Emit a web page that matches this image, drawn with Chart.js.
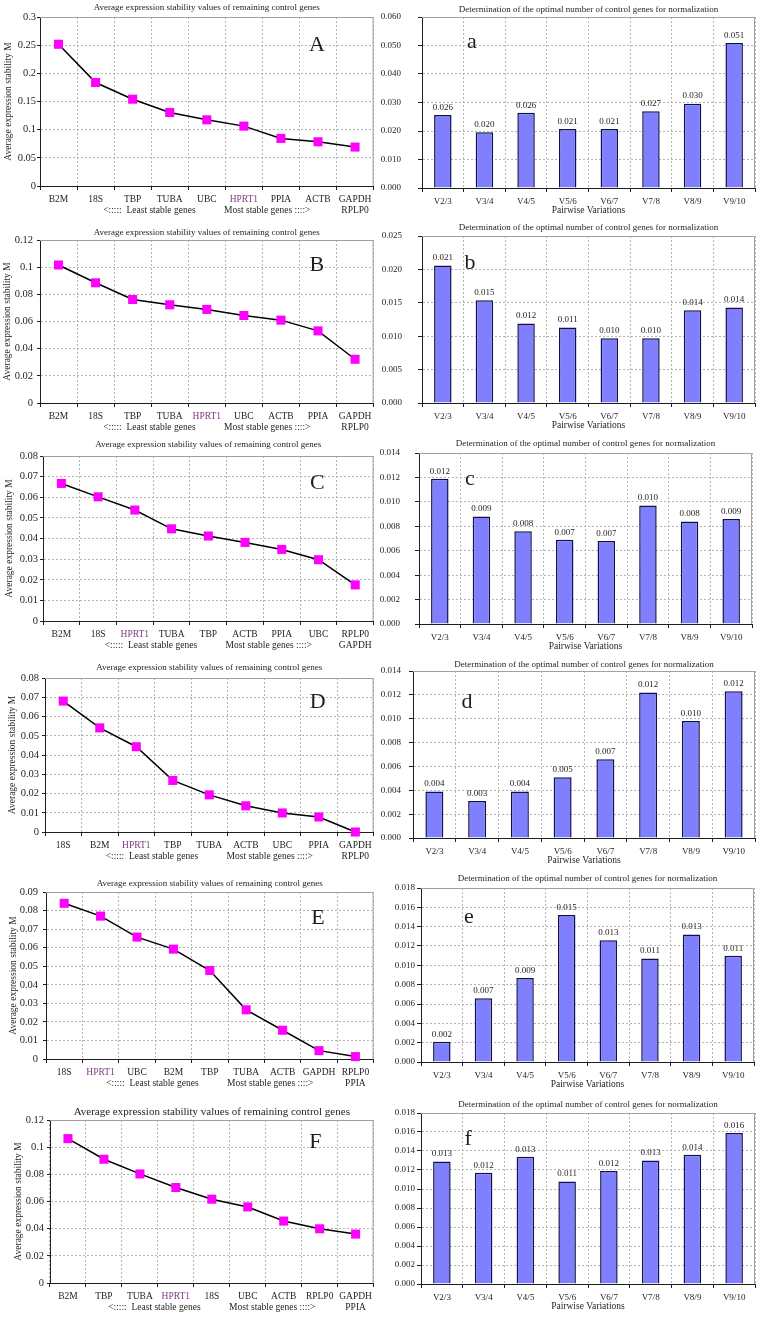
<!DOCTYPE html>
<html>
<head>
<meta charset="utf-8">
<script src="https://cdn.jsdelivr.net/npm/chart.js@4.4.1/dist/chart.umd.min.js"></script>
<style>
html, body { margin: 0; padding: 0; background: #fff; }
#page { position: relative; width: 763px; height: 1317px; overflow: hidden; background: #fff; }
#page canvas { position: absolute; }
</style>
</head>
<body>
<div id="page"></div>
<script>
// ---- data ----
const genesA = ['B2M', '18S', 'TBP', 'TUBA', 'UBC', 'HPRT1', 'PPIA', 'ACTB', ['GAPDH', 'RPLP0']];
const stabilityA = [0.2516, 0.1837, 0.1541, 0.1305, 0.1175, 0.1063, 0.0845, 0.0785, 0.0691];
const genesB = ['B2M', '18S', 'TBP', 'TUBA', 'HPRT1', 'UBC', 'ACTB', 'PPIA', ['GAPDH', 'RPLP0']];
const stabilityB = [0.1016, 0.0885, 0.0762, 0.0723, 0.0689, 0.0644, 0.0610, 0.0531, 0.0322];
const genesC = ['B2M', '18S', 'HPRT1', 'TUBA', 'TBP', 'ACTB', 'PPIA', 'UBC', ['RPLP0', 'GAPDH']];
const stabilityC = [0.0667, 0.0602, 0.0538, 0.0447, 0.0412, 0.0381, 0.0347, 0.0297, 0.0175];
const genesD = ['18S', 'B2M', 'HPRT1', 'TBP', 'TUBA', 'ACTB', 'UBC', 'PPIA', ['GAPDH', 'RPLP0']];
const stabilityD = [0.0680, 0.0541, 0.0443, 0.0268, 0.0193, 0.0136, 0.0099, 0.0078, 0.0];
const genesE = ['18S', 'HPRT1', 'UBC', 'B2M', 'TBP', 'TUBA', 'ACTB', 'GAPDH', ['RPLP0', 'PPIA']];
const stabilityE = [0.0839, 0.0770, 0.0657, 0.0592, 0.0477, 0.0265, 0.0155, 0.0045, 0.0013];
const genesF = ['B2M', 'TBP', 'TUBA', 'HPRT1', '18S', 'UBC', 'ACTB', 'RPLP0', ['GAPDH', 'PPIA']];
const stabilityF = [0.1063, 0.0911, 0.0803, 0.0703, 0.0617, 0.0560, 0.0456, 0.0399, 0.0360];

const pairs = ['V2/3', 'V3/4', 'V4/5', 'V5/6', 'V6/7', 'V7/8', 'V8/9', 'V9/10'];
const pairwiseA = [0.0256, 0.0196, 0.0264, 0.0207, 0.0207, 0.0269, 0.0296, 0.0509];
const pairwiseB = [0.0206, 0.0154, 0.0119, 0.0113, 0.0097, 0.0097, 0.0139, 0.0143];
const pairwiseC = [0.0119, 0.0088, 0.0076, 0.0069, 0.0068, 0.0097, 0.0084, 0.0086];
const pairwiseD = [0.0039, 0.0031, 0.0039, 0.0051, 0.0066, 0.0122, 0.0098, 0.0123];
const pairwiseE = [0.0021, 0.0066, 0.0087, 0.0152, 0.0126, 0.0107, 0.0132, 0.0110];
const pairwiseF = [0.0129, 0.0117, 0.0134, 0.0108, 0.0119, 0.0130, 0.0136, 0.0159];

// y axis [max, step]
const axisA = [0.3, 0.05], axisB = [0.12, 0.02], axisC = [0.08, 0.01];
const axisD = [0.08, 0.01], axisE = [0.09, 0.01], axisF = [0.12, 0.02];
const axisa = [0.06, 0.01], axisb = [0.025, 0.005], axisc = [0.014, 0.002];
const axisd = [0.014, 0.002], axise = [0.018, 0.002], axisf = [0.018, 0.002];

const lineTitle = 'Average expression stability values of remaining control genes';
const barTitle = 'Determination of the optimal number of control genes for normalization';
const stableNote = '<:::::  Least stable genes            Most stable genes ::::>';

// ---- look ----
const SERIF = "'Liberation Serif', 'Times New Roman', serif";
const INK = '#1e1e1e';
const PURPLE = '#7b3a7b';
const GRID = '#b4b4b4';

// plot area of each panel, in page pixels
const panels = [
  {kind: 'line', labels: genesA, values: stabilityA, axis: axisA, letter: 'A', left: 40, top: 17, right: 377, bottom: 186, titleY: 8, fx: 0.83, fy: 0.166, ytx: 8, ypad: 1},
  {kind: 'bar', labels: pairs, values: pairwiseA, axis: axisa, letter: 'a', left: 422, top: 17, right: 755, bottom: 188, titleY: 10, fx: 0.15, fy: 0.146, ypad: 17},
  {kind: 'line', labels: genesB, values: stabilityB, axis: axisB, letter: 'B', left: 40, top: 240, right: 377, bottom: 403, titleY: 233, fx: 0.83, fy: 0.153, ytx: 7, ypad: 4},
  {kind: 'bar', labels: pairs, values: pairwiseB, axis: axisb, letter: 'b', left: 422, top: 236, right: 755, bottom: 403, titleY: 228, fx: 0.144, fy: 0.16, ypad: 16},
  {kind: 'line', labels: genesC, values: stabilityC, axis: axisC, letter: 'C', left: 43, top: 456, right: 377, bottom: 621, titleY: 445, fx: 0.83, fy: 0.164, ytx: 9, ypad: 2},
  {kind: 'bar', labels: pairs, values: pairwiseC, axis: axisc, letter: 'c', left: 419, top: 453, right: 752, bottom: 624, titleY: 444, fx: 0.153, fy: 0.152, ypad: 15},
  {kind: 'line', labels: genesD, values: stabilityD, axis: axisD, letter: 'D', left: 45, top: 678, right: 377, bottom: 832, titleY: 668, fx: 0.83, fy: 0.16, ytx: 12, ypad: 3},
  {kind: 'bar', labels: pairs, values: pairwiseD, axis: axisd, letter: 'd', left: 413, top: 671, right: 755, bottom: 838, titleY: 665, fx: 0.158, fy: 0.186, ypad: 8},
  {kind: 'line', labels: genesE, values: stabilityE, axis: axisE, letter: 'E', left: 46, top: 892, right: 377, bottom: 1059, titleY: 884, fx: 0.83, fy: 0.156, ytx: 13, ypad: 5},
  {kind: 'bar', labels: pairs, values: pairwiseE, axis: axise, letter: 'e', left: 421, top: 888, right: 754, bottom: 1062, titleY: 879, fx: 0.144, fy: 0.167, ypad: 2},
  {kind: 'line', labels: genesF, values: stabilityF, axis: axisF, letter: 'F', left: 50, top: 1120, right: 380, bottom: 1283, titleY: 1112, fx: 0.82, fy: 0.135, ytx: 18, ypad: 3, titleSize: 11},
  {kind: 'bar', labels: pairs, values: pairwiseF, axis: axisf, letter: 'f', left: 421, top: 1113, right: 755, bottom: 1284, titleY: 1105, fx: 0.141, fy: 0.152, ypad: 2}
];

const page = document.getElementById('page');

function buildPanel(p) {
  const isLine = p.kind === 'line';
  const boxX = isLine ? 0 : 380;
  const boxW = isLine ? 380 : 383;
  const y0 = p.top - 24;
  const xH = isLine ? 30 : 28;
  const boxH = p.bottom - y0 + xH + 2;

  const cv = document.createElement('canvas');
  cv.width = boxW;
  cv.height = boxH;
  cv.style.left = boxX + 'px';
  cv.style.top = y0 + 'px';
  page.appendChild(cv);

  const tSize = p.titleSize || 9;
  const tLH = tSize * 1.2;

  const decor = {
    id: 'decor',
    beforeDatasetsDraw(chart) {
      const a = chart.chartArea, c = chart.ctx;
      c.save();
      c.strokeStyle = '#a0a0a0';
      c.lineWidth = 1;
      c.beginPath();
      c.moveTo(a.left, a.top + 0.5);
      c.lineTo(a.right - 0.5, a.top + 0.5);
      c.lineTo(a.right - 0.5, a.bottom);
      c.stroke();
      c.restore();
    },
    afterDatasetsDraw(chart) {
      const a = chart.chartArea, c = chart.ctx;
      c.save();
      c.fillStyle = INK;
      c.textAlign = 'center';
      c.textBaseline = 'middle';
      c.font = '22px ' + SERIF;
      c.fillText(p.letter, a.left + p.fx * (a.right - a.left), a.top + p.fy * (a.bottom - a.top));
      if (!isLine) {
        c.font = '9px ' + SERIF;
        c.textBaseline = 'bottom';
        chart.getDatasetMeta(0).data.forEach((bar, i) => {
          c.fillText(p.values[i].toFixed(3), bar.x, bar.y - 3);
        });
      }
      c.restore();
    }
  };

  const dataset = isLine ? {
    data: p.values,
    borderColor: '#000',
    borderWidth: 1.5,
    tension: 0,
    pointStyle: 'rect',
    pointRadius: 6.4,
    pointBackgroundColor: '#ff00ff',
    pointBorderColor: '#ff00ff',
    pointBorderWidth: 0,
    clip: false
  } : {
    data: p.values,
    backgroundColor: '#8080ff',
    borderColor: '#10104a',
    borderWidth: 1.5,
    barPercentage: 0.42,
    categoryPercentage: 1
  };

  new Chart(cv, {
    type: isLine ? 'line' : 'bar',
    data: {labels: p.labels, datasets: [dataset]},
    plugins: [decor],
    options: {
      responsive: false,
      animation: false,
      devicePixelRatio: 1,
      layout: {padding: {left: 0, top: 0, right: boxX + boxW - p.right, bottom: 2}},
      plugins: {
        legend: {display: false},
        tooltip: {enabled: false},
        title: {
          display: true,
          text: isLine ? lineTitle : barTitle,
          color: INK,
          fullSize: false,
          font: {family: SERIF, size: tSize, weight: 'normal', lineHeight: 1.2},
          padding: {top: p.titleY - y0 - tLH / 2, bottom: p.top - p.titleY - tLH / 2}
        }
      },
      scales: {
        x: {
          offset: true,
          afterFit: s => { s.height = xH; },
          ticks: {
            color: isLine ? (c => p.labels[c.index] === 'HPRT1' ? PURPLE : INK) : INK,
            font: {family: SERIF, size: isLine ? 9.5 : 9, lineHeight: 1.15},
            padding: isLine ? 4.5 : 4.8,
            maxRotation: 0,
            autoSkip: false
          },
          grid: {offset: true, color: GRID, tickColor: INK, tickLength: 4},
          border: {color: INK, width: 1, dash: [2, 2]},
          title: {
            display: true,
            text: isLine ? stableNote : 'Pairwise Variations',
            color: INK,
            font: {family: SERIF, size: 9.5, lineHeight: 1.2},
            padding: 0
          }
        },
        y: {
          min: 0,
          max: p.axis[0],
          afterFit: s => { s.width = p.left - boxX; },
          ticks: {
            stepSize: p.axis[1],
            color: INK,
            font: {family: SERIF, size: isLine ? 10.5 : 9},
            padding: p.ypad,
            callback: v => isLine ? String(+v.toFixed(3)) : v.toFixed(3)
          },
          grid: {color: GRID, tickColor: INK, tickLength: isLine ? 3 : 4},
          border: {color: INK, width: 1, dash: [2, 2]},
          title: isLine ? {
            display: true,
            text: 'Average expression stability M',
            color: INK,
            font: {family: SERIF, size: 9.5, lineHeight: 1.2},
            padding: {top: p.ytx - 5.7, bottom: 0}
          } : {display: false}
        }
      }
    }
  });
}

panels.forEach(buildPanel);
</script>
</body>
</html>
